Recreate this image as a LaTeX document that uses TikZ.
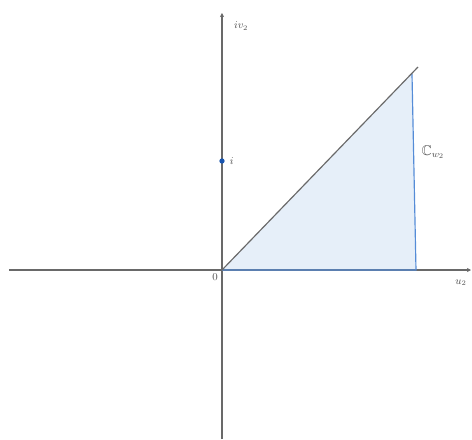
\documentclass[tikz,border=0pt]{standalone}
\usepackage{amssymb}
\usetikzlibrary{arrows.meta,positioning,calc}
\definecolor{axisgray}{RGB}{105,105,105}
\definecolor{edgeblue}{RGB}{85,140,215}
\definecolor{paleblue}{RGB}{230,239,249}
\definecolor{dotblue}{RGB}{25,85,175}
\definecolor{labgray}{RGB}{80,80,80}

\begin{document}
\begin{tikzpicture}[x=0.03cm,y=0.03cm,
    axis/.style={axisgray,line width=1pt,-{Stealth[length=3.5pt,width=3.5pt]}},
    lab/.style={labgray,font=\small,inner sep=1pt}]
    \useasboundingbox (-222,-169) rectangle (250,270);
    \coordinate (O) at (0,0);
    \coordinate (tip) at (196,203);
    \coordinate (top) at (190,196);
    \coordinate (foot) at (194,0);
    % sector
    \fill[paleblue] (O) -- (top) -- (foot) -- cycle;
    \draw[axis] (-213,0) -- (249,0);
    \draw[axis] (0,-169) -- (0,257);
    \draw[edgeblue,line width=1pt] (O) -- (foot) -- (top);
    \draw[axisgray,line width=1pt] (O) -- (tip);
    \node[circle,fill=dotblue,inner sep=0pt,minimum size=4.5pt] (i) at (0,109) {};
    \node[lab,right=3pt of i] {$i$};
    \node[lab] (iv) at (19,244) {$iv_2$};
    \node[lab] (u) at (239,-13) {$u_2$};
    \node[lab] (zero) at (-7,-7) {$0$};
    \node[lab,font=\large] (C) at (211,118) {$\mathbb{C}_{w_2}$};
\end{tikzpicture}
\end{document}
